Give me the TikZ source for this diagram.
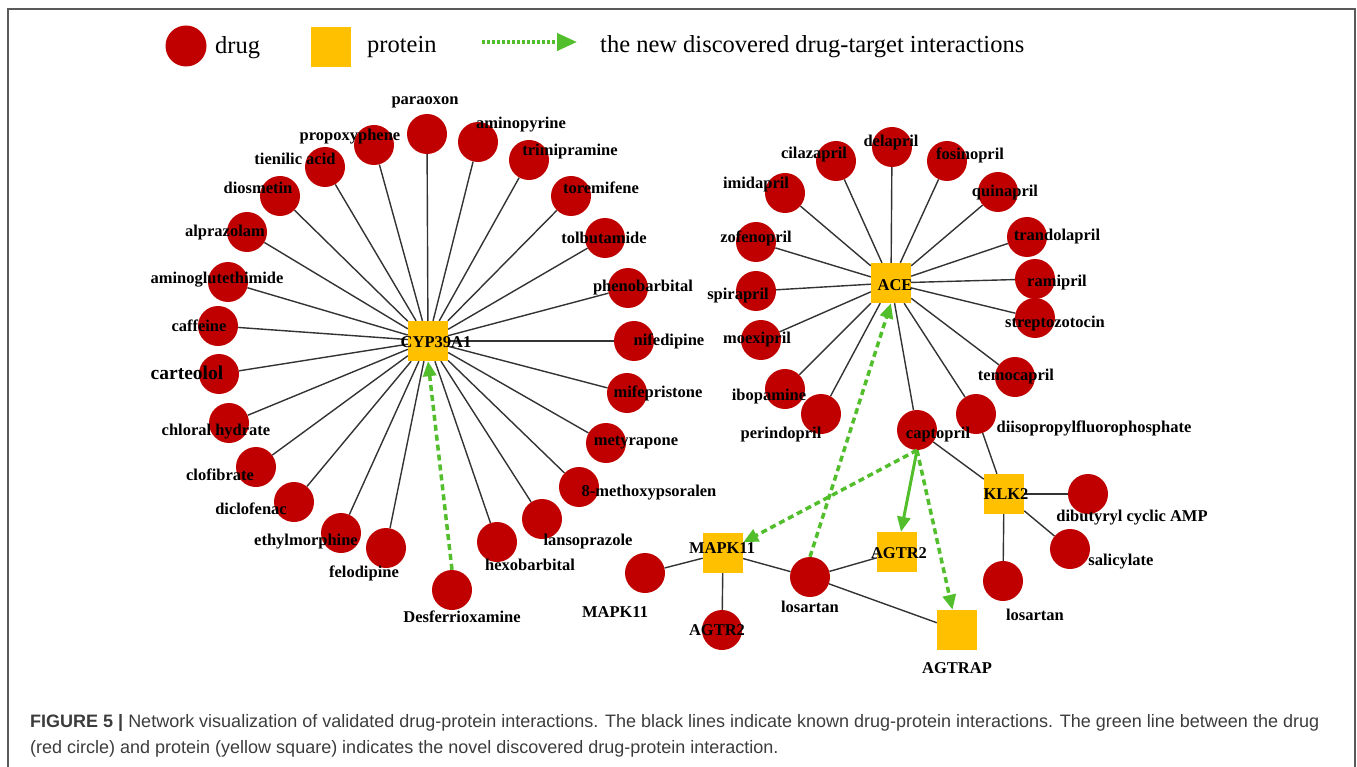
\documentclass[tikz,border=0pt]{standalone}
\usepackage{fontspec}
\setmainfont{Liberation Serif}
\newfontfamily\capfont{Liberation Sans}
\usetikzlibrary{arrows.meta,backgrounds}
\definecolor{drugred}{RGB}{192,0,0}
\definecolor{protyel}{RGB}{255,192,0}
\definecolor{newgreen}{RGB}{82,190,44}
\definecolor{edgegray}{RGB}{51,51,51}
\definecolor{capgray}{RGB}{60,60,60}
\definecolor{framegray}{RGB}{90,90,90}
\begin{document}
\begin{tikzpicture}[x=1pt,y=-1pt,
 drugnode/.style={circle,fill=drugred,minimum size=40pt,inner sep=0pt},
 protnode/.style={rectangle,fill=protyel,minimum size=40pt,inner sep=0pt},
 lbl/.style={font=\fontsize{16.5}{18}\selectfont\bfseries,inner sep=0pt},
 known/.style={draw=edgegray,line width=1.4pt},
 novel/.style={draw=newgreen,line width=3.5pt,dash pattern=on 6pt off 4pt,-{Triangle[length=15pt,width=13pt]}},
 novelsolid/.style={draw=newgreen,line width=3pt,-{Triangle[length=15pt,width=13pt]}},
 legtext/.style={font=\fontsize{24.5}{28}\selectfont,anchor=west,inner sep=0pt},
]
\useasboundingbox (0,0) rectangle (1357,767);
\draw[line width=2pt,draw=framegray] (8,767) -- (8,9) -- (1355,9) -- (1355,767);

% legend
\node[drugnode,minimum size=41pt] (legdrug) at (186,46) {};
\node[legtext] (legdrugt) at (215,48) {drug};
\node[protnode] (legprot) at (331,47) {};
\node[legtext] (legprott) at (367,47) {protein};
\coordinate (legA) at (482,42);
\coordinate (legB) at (577,42);
\draw[draw=newgreen,line width=4pt,dash pattern=on 3pt off 2pt,-{Triangle[length=20pt,width=17pt]}] (legA) -- (legB);
\node[legtext] (legnew) at (600,47) {the new discovered drug-target interactions};

% proteins
\node[protnode] (cyp) at (428,341) {};
\node[protnode] (ace) at (891,283) {};
\node[protnode] (klk) at (1004,494) {};
\node[protnode] (agtrap) at (957,630) {};
\node[protnode] (mapk) at (723,553) {};
\node[protnode] (agsq) at (897,552) {};

% drugs
\foreach \n/\x/\y in {par/427/134, amp/478/142, tri/529/160, tor/571/196, tol/605/238,
 phe/628/288, nif/634/341, mif/627/393, met/606/443, mox/579/487, lan/542/519,
 hex/497/542, des/452/590, fel/386/548, eth/341/533, dic/294/502, clo/256/467,
 chl/229/423, car/219/374, caf/218/326, amg/228/282, alp/247/232, dio/280/196,
 tie/325/167, pro/374/145,
 del/892/147, cil/836/161, fos/947/161, imi/785/193, qui/998/192, trd/1027/237,
 ram/1035/279, str/1035/318, tem/1015/377, dfp/976/414, zof/756/242, spi/756/291,
 moe/761/340, ibo/785/389, per/821/414, cap/917/430,
 dib/1088/494, sal/1070/549, lost/1003/581,
 mapkd/645/573, agd/722/630, los/810/577}
 {\node[drugnode] (\n) at (\x,\y) {};}

% known interactions
\begin{pgfonlayer}{background}
\foreach \n in {par,amp,tri,tor,tol,phe,nif,mif,met,mox,lan,hex,fel,eth,dic,clo,chl,car,caf,amg,alp,dio,tie,pro}
 {\draw[known] (cyp) -- (\n);}
\foreach \n in {del,cil,fos,imi,qui,trd,ram,str,tem,dfp,zof,spi,moe,ibo,per,cap}
 {\draw[known] (ace) -- (\n);}
\foreach \n in {cap,dfp,dib,sal,lost}
 {\draw[known] (klk) -- (\n);}
\foreach \n in {mapkd,agd,los}
 {\draw[known] (mapk) -- (\n);}
\draw[known] (los) -- (agsq);
\draw[known] (los) -- (agtrap);
\end{pgfonlayer}

% novel interactions
\draw[novel] (des.north) -- (cyp.south);
\draw[novel] (los.north) -- (ace.south);
\draw[novel] (cap.south) -- (mapk);
\draw[novelsolid] (cap.south) -- (agsq);
\draw[novel] (cap.south) -- (agtrap);

% labels
\foreach \n/\x/\y/\t in {par/425/102/paraoxon, amp/521/125/aminopyrine, tri/570/152/trimipramine,
 tor/601/188/toremifene, tol/604/238/tolbutamide, phe/643/288/phenobarbital,
 nif/669/341/nifedipine, mif/658/393/mifepristone, met/636/443/metyrapone,
 mox/649/493/8-methoxypsoralen, lan/588/542/lansoprazole, hex/530/565/hexobarbital,
 des/462/617/Desferrioxamine, fel/364/573/felodipine, eth/306/542/ethylmorphine,
 dic/251/509/diclofenac, clo/220/475/clofibrate, chl/216/432/chloral hydrate,
 caf/199/326/caffeine, amg/217/280/aminoglutethimide, alp/225/233/alprazolam,
 dio/258/188/diosmetin, tie/295/159/tienilic acid, pro/350/137/propoxyphene,
 del/891/143/delapril, cil/814/155/cilazapril, fos/970/155/fosinopril,
 imi/756/185/imidapril, qui/1005/193/quinapril, trd/1057/237/trandolapril,
 ram/1057/283/ramipril, str/1055/324/streptozotocin, tem/1016/377/temocapril,
 dfp/1094/428/diisopropylfluorophosphate, zof/756/238/zofenopril, spi/738/296/spirapril,
 moe/757/340/moexipril, ibo/769/397/ibopamine, per/781/435/perindopril,
 cap/938/435/captopril, dib/1132/518/dibutyryl cyclic AMP, sal/1121/562/salicylate,
 lost/1035/615/losartan, mapkd/615/612/MAPK11, agd/717/630/AGTR2, los/810/607/losartan,
 cyp/436/342/CYP39A1, ace/895/285/ACE, klk/1006/494/KLK2, agtrap/957/668/AGTRAP,
 mapk/722/548/MAPK11, agsq/899/553/AGTR2}
 {\node[lbl] (l\n) at (\x,\y) {\t};}
\node[lbl,font=\fontsize{19.5}{22}\selectfont\bfseries] (lcar) at (187,373) {carteolol};

% caption
\node[anchor=north west,align=left,inner sep=0pt,text=capgray,
 font=\capfont\fontsize{18}{26}\selectfont] (caption) at (30,714)
 {\textbf{FIGURE 5 |} Network visualization of validated drug-protein interactions. The black lines indicate known drug-protein interactions. The green line between the drug\\(red circle) and protein (yellow square) indicates the novel discovered drug-protein interaction.};
\end{tikzpicture}
\end{document}
